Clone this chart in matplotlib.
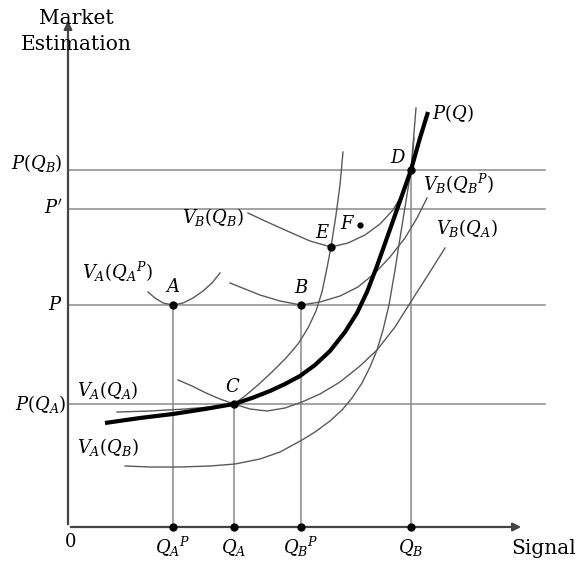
import matplotlib
matplotlib.use("Agg")
import matplotlib.pyplot as plt

# ---- data (origin at lower-left of axes, units ~ pixels) ----
OX, OY = 68, 527
def cx(v): return [p - OX for p in v]
def cy(v): return [OY - p for p in v]

# key levels
q_levels = {"QAP": 173, "QA": 234, "QBP": 301, "QB": 411}
p_levels = {"PQB": 170, "Pp": 209, "P": 305, "PQA": 404}

pq_x = [105, 140, 173, 205, 234, 252, 270, 285, 300, 315, 330, 345, 357, 367, 377, 388, 400, 411, 420, 428]
pq_y = [423, 418, 414, 409, 404, 398, 391, 384, 376, 365, 351, 332, 313, 292, 266, 235, 201, 170, 138, 112]

vaqap_x = [148, 155, 163, 173, 183, 193, 203, 212, 220]
vaqap_y = [292, 298, 303, 305, 303, 298, 291, 283, 273]

vbqbp_x = [230, 245, 260, 280, 301, 320, 340, 358, 375, 390, 405, 417, 427]
vbqbp_y = [283, 289, 295, 301, 305, 302, 296, 287, 273, 257, 238, 218, 198]

vbqb_x = [248, 265, 285, 310, 331, 348, 365, 380, 393, 403, 411, 413, 414]
vbqb_y = [213, 221, 230, 241, 247, 243, 235, 224, 210, 193, 170, 150, 138]

vaqa_x = [117, 150, 185, 210, 234, 245, 258, 272, 286, 298, 308, 316, 322, 327, 331, 336, 340, 343]
vaqa_y = [412, 411, 409, 407, 404, 396, 385, 372, 358, 344, 328, 311, 292, 268, 247, 215, 185, 152]

vbqa_x = [178, 192, 206, 220, 234, 250, 267, 285, 302, 320, 340, 360, 377, 395, 412, 428, 445]
vbqa_y = [380, 386, 393, 399, 404, 409, 411, 408, 402, 394, 382, 366, 350, 327, 300, 275, 248]

vaqb_x = [125, 150, 180, 210, 235, 260, 280, 302, 315, 330, 342, 352, 362, 370, 377, 383, 389, 395, 401, 406, 411, 416]
vaqb_y = [466, 467, 467, 466, 464, 459, 452, 440, 432, 421, 410, 398, 383, 367, 350, 330, 305, 270, 232, 201, 170, 108]

pts = {"A": (173, 305), "B": (301, 305), "C": (234, 404), "D": (411, 170), "E": (331, 247)}
F_pt = (360, 225)

fig = plt.figure(figsize=(5.76, 5.62), dpi=100)
ax = fig.add_axes([0, 0, 1, 1])
ax.set_xlim(-OX, 576 - OX)
ax.set_ylim(OY - 562, OY)
ax.axis("off")
plt.rcParams["mathtext.fontset"] = "dejavuserif"

grid_c = "#8a8a8a"
curve_c = "#5a5a5a"
line_end = 545 - OX

# horizontal price lines
for k, v in p_levels.items():
    ax.plot([0, line_end], [OY - v, OY - v], color=grid_c, lw=1.1, zorder=1)
# vertical lines up to points
ax.plot([q_levels["QAP"] - OX] * 2, [0, OY - p_levels["P"]], color=grid_c, lw=1.1, zorder=1)
ax.plot([q_levels["QA"] - OX] * 2, [0, OY - p_levels["PQA"]], color=grid_c, lw=1.1, zorder=1)
ax.plot([q_levels["QBP"] - OX] * 2, [0, OY - p_levels["P"]], color=grid_c, lw=1.1, zorder=1)
ax.plot([q_levels["QB"] - OX] * 2, [0, OY - p_levels["PQB"]], color=grid_c, lw=1.1, zorder=1)

# axes arrows
ax.annotate("", xy=(0, OY - 18), xytext=(0, 0),
            arrowprops=dict(arrowstyle="-|>", color="#444", lw=1.6, mutation_scale=12))
ax.annotate("", xy=(524 - OX, 0), xytext=(0, 0),
            arrowprops=dict(arrowstyle="-|>", color="#444", lw=1.6, mutation_scale=12))

# thin curves
for xs, ys in [(vaqap_x, vaqap_y), (vbqbp_x, vbqbp_y), (vbqb_x, vbqb_y),
               (vaqa_x, vaqa_y), (vbqa_x, vbqa_y), (vaqb_x, vaqb_y)]:
    ax.plot(cx(xs), cy(ys), color=curve_c, lw=1.0, zorder=2)

# thick P(Q)
ax.plot(cx(pq_x), cy(pq_y), color="black", lw=3.0, solid_capstyle="butt",
        solid_joinstyle="round", zorder=3)

# points
for k, (px, py) in pts.items():
    ax.plot(px - OX, OY - py, "o", color="black", ms=5, zorder=4)
ax.plot(F_pt[0] - OX, OY - F_pt[1], "o", color="black", ms=3.5, zorder=4)
for v in q_levels.values():
    ax.plot(v - OX, 0, "o", color="black", ms=5, zorder=4)

fs = 13
def T(px, py, s, ha="center", va="center", size=fs, **kw):
    ax.text(px - OX, OY - py, s, ha=ha, va=va, fontsize=size, **kw)

serif = "DejaVu Serif"
T(76, 19, "Market", family=serif, size=14.5)
T(76, 45, "Estimation", family=serif, size=14.5)
T(576, 548, "Signal", family=serif, size=14.5, ha="right")
T(70, 542, r"$0$", size=fs)

T(63, 163, r"$P(Q_B)$", ha="right")
T(63, 208, r"$P'$", ha="right")
T(63, 305, r"$P$", ha="right")
T(66, 404, r"$P(Q_A)$", ha="right")
T(82, 272, r"$V_A(Q_A{}^P)$", ha="left")
T(182, 217, r"$V_B(Q_B)$", ha="left")
T(423, 184, r"$V_B(Q_B{}^P)$", ha="left")
T(436, 228, r"$V_B(Q_A)$", ha="left")
T(432, 113, r"$P(Q)$", ha="left")
T(77, 390, r"$V_A(Q_A)$", ha="left")
T(77, 447, r"$V_A(Q_B)$", ha="left")

T(173, 287, r"$A$")
T(301, 288, r"$B$")
T(233, 387, r"$C$")
T(398, 158, r"$D$")
T(323, 233, r"$E$")
T(348, 224, r"$F$")

T(173, 547, r"$Q_A{}^P$")
T(234, 547, r"$Q_A$")
T(301, 547, r"$Q_B{}^P$")
T(411, 547, r"$Q_B$")

fig.savefig("out.png", dpi=100)
